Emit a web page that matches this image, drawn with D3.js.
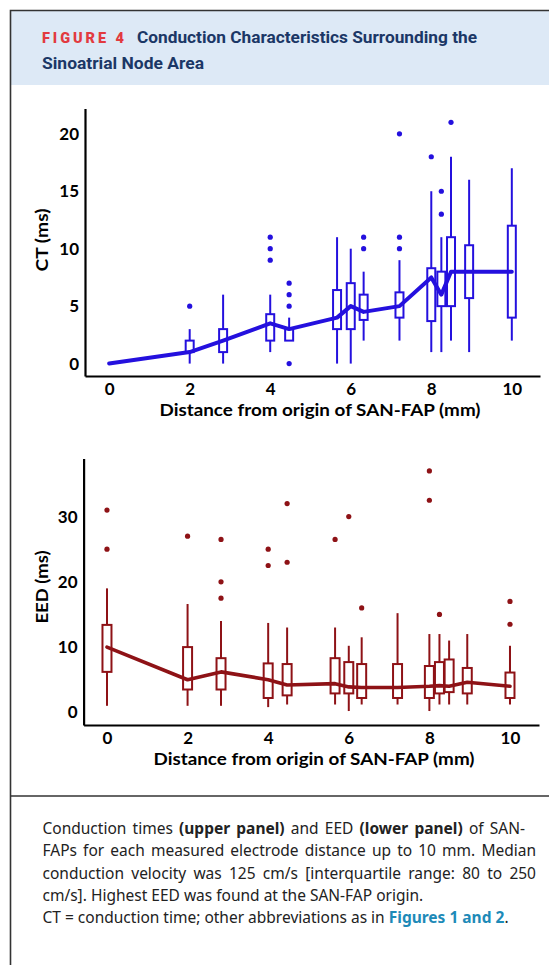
<!DOCTYPE html>
<html>
<head>
<meta charset="utf-8">
<script src="https://cdn.jsdelivr.net/npm/d3@7"></script>
<style>
  body { margin: 0; background: #fff; }
  svg { display: block; }
</style>
</head>
<body>
<div id="chart"></div>
<script>
// electrode distances (mm)
const distances = [0, 2, 2.83, 4, 4.47, 5.66, 6, 6.32, 7.21, 8, 8.25, 8.49, 8.94, 10];

// conduction time (ms), upper panel
const ctMin    = [0, 0, 0, 1, 2, 0, 0, 2, 2, 1, 1, 2, 1, 2];
const ctQ1     = [0, 1, 1, 2, 2, 3, 3, 3.8, 4, 3.7, 5, 5, 5.7, 4];
const ctMedian = [0, 1, 2, 3.5, 3, 4, 5, 4.5, 5, 7.5, 6, 8, 8, 8];
const ctQ3     = [0, 2, 3, 4.3, 3, 6.4, 7, 6, 6.2, 8.3, 8, 11, 10.3, 12];
const ctMax    = [0, 3, 6, 6, 4, 11, 10, 8, 9, 15, 11, 18, 16, 17];
const ctOutliers = [[], [5], [], [9, 10, 11], [0, 5, 6, 7], [], [], [10, 11], [10, 11, 20], [18], [13, 15], [21], [], []];

// EED (ms), lower panel
const eedMin    = [1, 1, 1, 0.8, 1.2, 1.2, 0.2, 1.2, 1.2, 0.2, 1.2, 1.2, 1.2, 1.2];
const eedQ1     = [6.2, 3.5, 3.5, 2.2, 2.6, 2.9, 2.9, 2.2, 2.2, 2.2, 2.9, 3.1, 2.9, 2.2];
const eedMedian = [10, 5, 6.2, 5, 4.2, 4.4, 3.9, 3.8, 3.8, 4, 4.1, 4, 4.6, 4];
const eedQ3     = [13.4, 10, 8.3, 7.5, 7.4, 8.3, 7.7, 7.4, 7.4, 7.1, 7.7, 8.1, 6.8, 6.1];
const eedMax    = [19, 16.6, 14, 13.7, 13, 13, 10.2, 11.5, 15.2, 12, 12, 11, 12, 10.2];
const eedOutliers = [[25, 31], [27], [17.5, 20, 26.5], [22.5, 25], [23, 32], [26.5], [30], [16], [], [32.5, 37], [15], [], [], [13.5, 17]];

const xTicks = [0, 2, 4, 6, 8, 10];
const ctTicks = [0, 5, 10, 15, 20];
const eedTicks = [0, 10, 20, 30];

const W = 549, H = 965;
const axisFont = 'Lato, "Open Sans", sans-serif';
const svg = d3.select('#chart').append('svg').attr('width', W).attr('height', H);

// frame + header
svg.append('rect').attr('x', 11).attr('y', 11).attr('width', W).attr('height', 74).attr('fill', '#dde9f6');
svg.append('path').attr('d', `M10.5,${H + 5}V10.5H${W + 5}`).attr('fill', 'none').attr('stroke', '#333').attr('stroke-width', 1.6);
svg.append('line').attr('x1', 10).attr('x2', W + 5).attr('y1', 796).attr('y2', 796).attr('stroke', '#333').attr('stroke-width', 1.6);

svg.append('text').attr('x', 42).attr('y', 43)
    .attr('font-family', 'Roboto, sans-serif').attr('font-weight', 900).attr('font-size', 14.5)
    .attr('fill', '#e23a40').attr('textLength', 82).attr('lengthAdjust', 'spacing')
    .text('FIGURE 4');
svg.append('text').attr('x', 137).attr('y', 43)
    .attr('font-family', 'Roboto, sans-serif').attr('font-weight', 700).attr('font-size', 16.5)
    .attr('fill', '#1b3766').attr('textLength', 340).attr('lengthAdjust', 'spacingAndGlyphs')
    .text('Conduction Characteristics Surrounding the');
svg.append('text').attr('x', 42).attr('y', 69)
    .attr('font-family', 'Roboto, sans-serif').attr('font-weight', 700).attr('font-size', 16.5)
    .attr('fill', '#1b3766').attr('textLength', 162).attr('lengthAdjust', 'spacingAndGlyphs')
    .text('Sinoatrial Node Area');

function drawPanel(o) {
    const x = d3.scaleLinear().domain(o.xDomain).range([o.left, o.right]);
    const y = d3.scaleLinear().domain(o.yDomain).range([o.bottom, o.top]);
    const g = svg.append('g');

    const rows = distances.map((d, i) => ({
        dist: d, min: o.min[i], q1: o.q1[i], med: o.med[i], q3: o.q3[i], max: o.max[i]
    }));
    const outliers = [];
    o.outliers.forEach((list, i) => list.forEach(v => outliers.push({ dist: distances[i], v })));

    const xAxis = d3.axisBottom(x).tickValues(xTicks).tickSize(0).tickPadding(7);
    g.append('g').attr('transform', `translate(0,${o.bottom})`).call(xAxis)
        .call(a => a.select('.domain').attr('stroke', '#000').attr('stroke-width', 2.2))
        .call(a => a.selectAll('text').attr('font-family', axisFont).attr('font-weight', 700)
            .attr('font-size', 17).attr('fill', '#000'));

    const yAxis = d3.axisLeft(y).tickValues(o.yTicks).tickSize(0).tickPadding(6);
    g.append('g').attr('transform', `translate(${o.left},0)`).call(yAxis)
        .call(a => a.select('.domain').attr('stroke', '#000').attr('stroke-width', 2.2))
        .call(a => a.selectAll('text').attr('font-family', axisFont).attr('font-weight', 700)
            .attr('font-size', 17).attr('fill', '#000'));

    g.append('text')
        .attr('x', o.titleX).attr('y', o.titleY)
        .attr('text-anchor', 'middle')
        .attr('font-family', axisFont).attr('font-weight', 700).attr('font-size', 17)
        .attr('textLength', 321).attr('lengthAdjust', 'spacingAndGlyphs')
        .text('Distance from origin of SAN-FAP (mm)');

    g.append('text')
        .attr('transform', `translate(${o.yLabelX},${o.yLabelY}) rotate(-90)`)
        .attr('text-anchor', 'middle')
        .attr('font-family', axisFont).attr('font-weight', 700).attr('font-size', 17)
        .attr('textLength', o.yLabelLen).attr('lengthAdjust', 'spacingAndGlyphs')
        .text(o.yLabel);

    g.selectAll('.whisker')
        .data(rows)
        .join('line')
        .attr('class', 'whisker')
        .attr('x1', d => x(d.dist)).attr('x2', d => x(d.dist))
        .attr('y1', d => y(d.min)).attr('y2', d => y(d.max))
        .attr('stroke', o.color).attr('stroke-width', 2);

    g.selectAll('.box')
        .data(rows.filter(d => d.q3 > d.q1))
        .join('rect')
        .attr('class', 'box')
        .attr('x', d => x(d.dist) - o.boxW / 2)
        .attr('y', d => y(d.q3))
        .attr('width', o.boxW)
        .attr('height', d => y(d.q1) - y(d.q3))
        .attr('fill', '#fff').attr('stroke', o.color).attr('stroke-width', 2);

    const line = d3.line().x(d => x(d.dist)).y(d => y(d.med));
    g.append('path')
        .datum(rows)
        .attr('d', line)
        .attr('fill', 'none').attr('stroke', o.color).attr('stroke-width', o.lineW)
        .attr('stroke-linejoin', 'round').attr('stroke-linecap', 'round');

    g.selectAll('.dot')
        .data(outliers)
        .join('circle')
        .attr('class', 'dot')
        .attr('cx', d => x(d.dist)).attr('cy', d => y(d.v))
        .attr('r', 2.6).attr('fill', o.color);
}

drawPanel({
    min: ctMin, q1: ctQ1, med: ctMedian, q3: ctQ3, max: ctMax, outliers: ctOutliers,
    xDomain: [-0.6, 10.7], yDomain: [-1.08, 22.2],
    left: 85, right: 540, top: 108.5, bottom: 376,
    yTicks: ctTicks, yLabel: 'CT (ms)', yLabelX: 48, yLabelY: 240, yLabelLen: 63,
    titleX: 320, titleY: 416,
    color: '#2410de', boxW: 8, lineW: 4
});

drawPanel({
    min: eedMin, q1: eedQ1, med: eedMedian, q3: eedQ3, max: eedMax, outliers: eedOutliers,
    xDomain: [-0.58, 10.72], yDomain: [-1.94, 38.9],
    left: 83.6, right: 539, top: 458.5, bottom: 725,
    yTicks: eedTicks, yLabel: 'EED (ms)', yLabelX: 48, yLabelY: 587, yLabelLen: 73,
    titleX: 314, titleY: 765,
    color: '#8e1216', boxW: 9, lineW: 3.6
});

// caption
const captionLines = [
    [['Conduction times ', 400], ['(upper panel)', 700], [' and EED ', 400], ['(lower panel)', 700], [' of SAN-', 400]],
    [['FAPs for each measured electrode distance up to 10 mm. Median', 400]],
    [['conduction velocity was 125 cm/s [interquartile range: 80 to 250', 400]],
    [['cm/s]. Highest EED was found at the SAN-FAP origin.', 400]],
    [['CT = conduction time; other abbreviations as in ', 400], ['Figures 1 and 2', 700, '#1d8ab8'], ['.', 400]]
];
const justifyTo = [525, 536, 536, null, null];

captionLines.forEach((parts, i) => {
    const t = svg.append('text')
        .attr('x', 42.5).attr('y', 834 + i * 22.3)
        .attr('font-family', '"Noto Sans", sans-serif').attr('font-size', 15.5)
        .attr('fill', '#222');
    parts.forEach(p => {
        t.append('tspan').attr('font-weight', p[1]).attr('fill', p[2] || '#222').text(p[0]);
    });
    if (justifyTo[i]) {
        const w = t.node().getComputedTextLength();
        const spaces = parts.map(p => p[0]).join('').split(' ').length - 1;
        t.attr('word-spacing', (justifyTo[i] - 42.5 - w) / spaces);
    }
});
</script>
</body>
</html>
